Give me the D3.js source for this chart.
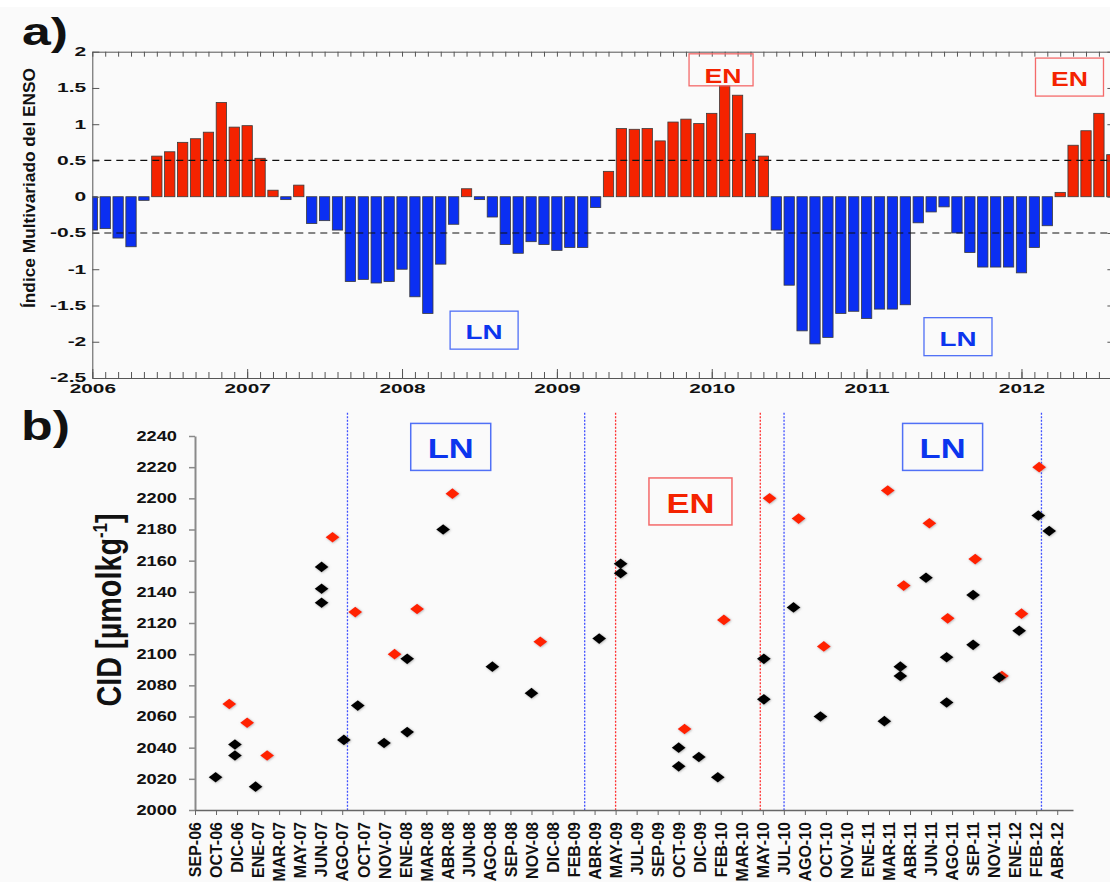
<!DOCTYPE html>
<html>
<head>
<meta charset="utf-8">
<script src="https://cdn.jsdelivr.net/npm/d3@7"></script>
<style>
  body { margin: 0; background: #fafafa; }
  svg { display: block; font-family: "Liberation Sans", Arial, sans-serif; }
</style>
</head>
<body>
<div id="chart"></div>
<script>
// ---- panel a: Multivariate ENSO index, monthly from Jan 2006 ----
var meiStart = 2006;
var meiValues = [
  -0.46, -0.44, -0.57, -0.69, -0.05, 0.56, 0.62, 0.75, 0.80, 0.89, 1.30, 0.96,
   0.98,  0.53,  0.09, -0.04,  0.16, -0.37, -0.33, -0.46, -1.17, -1.14, -1.19, -1.17,
  -1.00, -1.38, -1.61, -0.93, -0.38, 0.11, -0.04, -0.28, -0.66, -0.78, -0.62, -0.66,
  -0.74, -0.70, -0.70, -0.15,  0.35, 0.94, 0.93, 0.94, 0.77, 1.03, 1.07, 1.01,
   1.15,  1.53,  1.40,  0.87,  0.56, -0.46, -1.22, -1.85, -2.03, -1.94, -1.61, -1.58,
  -1.68, -1.55, -1.55, -1.49, -0.36, -0.21, -0.14, -0.50, -0.77, -0.97, -0.97, -0.97,
  -1.05, -0.70, -0.40,  0.06,  0.71, 0.91, 1.15, 0.58
];
var meiYears = [2006, 2007, 2008, 2009, 2010, 2011, 2012];
var meiTicks = [2, 1.5, 1, 0.5, 0, -0.5, -1, -1.5, -2, -2.5];
var meiThresholds = [0.5, -0.5];
// annotation boxes: [label, year, value]
var meiNotes = [["EN", 2010.06, 1.75], ["EN", 2012.31, 1.65], ["LN", 2008.53, -1.84], ["LN", 2011.59, -1.93]];

// ---- panel b: CID samples ----
var cidLabels = ["SEP-06","OCT-06","DIC-06","ENE-07","MAR-07","MAY-07","JUN-07","AGO-07","OCT-07","NOV-07",
  "ENE-08","MAR-08","ABR-08","JUN-08","AGO-08","SEP-08","NOV-08","DIC-08","FEB-09","ABR-09",
  "MAY-09","JUL-09","SEP-09","OCT-09","DIC-09","FEB-10","MAR-10","MAY-10","JUL-10","AGO-10",
  "OCT-10","NOV-10","ENE-11","MAR-11","ABR-11","JUN-11","AGO-11","SEP-11","NOV-11","ENE-12",
  "FEB-12","ABR-12"];
var cidTicks = [2000, 2020, 2040, 2060, 2080, 2100, 2120, 2140, 2160, 2180, 2200, 2220, 2240];
// [position on category axis, CID]
var redPoints = [[1.63,2068],[2.48,2056],[3.43,2035],[6.54,2175],[7.62,2127],[9.49,2100],[10.56,2129],
  [12.24,2203],[16.42,2108],[23.28,2052],[25.15,2122],[27.32,2200],[28.7,2187],[29.9,2105],
  [32.94,2205],[33.7,2144],[34.92,2184],[35.79,2123],[37.1,2161],[38.37,2086],[39.3,2126],[40.14,2220]];
var blackPoints = [[0.98,2021],[1.9,2042],[1.9,2035],[2.88,2015],[6.02,2156],[6.02,2142],[6.02,2133],
  [7.08,2045],[7.74,2067],[8.99,2043],[10.09,2097],[10.09,2050],[11.8,2180],[14.14,2092],[16.0,2075],
  [19.22,2110],[20.24,2158],[20.24,2152],[23.0,2040],[23.0,2028],[23.96,2034],[24.86,2021],
  [27.05,2097],[27.05,2071],[28.46,2130],[29.74,2060],[32.78,2057],[33.54,2092],[33.54,2086],
  [34.76,2149],[35.74,2098],[35.74,2069],[37.0,2138],[37.0,2106],[38.24,2085],[39.19,2115],
  [40.1,2189],[40.62,2179]];
var phasePos = [7.25, 18.53, 20.0, 26.88, 28.01, 40.25];
var phaseType = ["LN", "LN", "EN", "EN", "LN", "LN"];
// annotation boxes: [label, position, CID]
var cidNotes = [["LN", 12.16, 2233], ["EN", 23.56, 2198], ["LN", 35.55, 2233]];

var RED = "#f42300", BLUE = "#0b2ff2";
var noteColor = { EN: "#f42300", LN: "#0b35ee" };
var noteBorder = { EN: "#f46a6a", LN: "#5070f6" };
var lineColor = { EN: "#ff3030", LN: "#4050ff" };

var W = 1110, H = 882;
var svg = d3.select("#chart").append("svg").attr("width", W).attr("height", H);
svg.append("rect").attr("width", W).attr("height", H).attr("fill", "#fafafa");
svg.append("rect").attr("width", W).attr("height", 7).attr("fill", "#ffffff");

function stretch(sel, k) {
  sel.each(function () {
    var w = this.getComputedTextLength();
    d3.select(this).attr("textLength", w * k).attr("lengthAdjust", "spacingAndGlyphs");
  });
}

// ================= panel a =================
var xa = d3.scaleLinear().domain([2006, 2012.6]).range([92.3, 1114.4]);
var ya = d3.scaleLinear().domain([-2.5, 2]).range([378, 51.7]);
var months = d3.range(0, 80).map(function (i) { return meiStart + i / 12; });

svg.append("defs").append("clipPath").attr("id", "clipA")
  .append("rect").attr("x", xa(2006)).attr("y", ya(2))
  .attr("width", xa(2012.6) - xa(2006)).attr("height", ya(-2.5) - ya(2));

var ga = svg.append("g");
var barW = (xa(meiStart + 1 / 12) - xa(meiStart)) * 0.8;

ga.append("g").attr("clip-path", "url(#clipA)")
  .selectAll("rect").data(meiValues).join("rect")
  .attr("x", function (d, i) { return xa(meiStart + i / 12) - barW / 2; })
  .attr("y", function (d) { return ya(Math.max(d, 0)); })
  .attr("width", barW)
  .attr("height", function (d) { return Math.abs(ya(d) - ya(0)); })
  .attr("fill", function (d) { return d >= 0 ? RED : BLUE; })
  .attr("stroke", "#3a3a3a").attr("stroke-width", 0.8);

ga.selectAll(".thr").data(meiThresholds).join("line")
  .attr("class", "thr")
  .attr("x1", xa(2006)).attr("x2", xa(2012.6))
  .attr("y1", function (d) { return ya(d); }).attr("y2", function (d) { return ya(d); })
  .attr("stroke", "#111").attr("stroke-width", 1.2).attr("stroke-dasharray", "7,5");

function styleAxis(g, color) {
  g.selectAll("path, line").attr("stroke", color);
  g.selectAll("text").attr("fill", "#111").attr("font-weight", "bold");
}

var axL = ga.append("g").attr("transform", "translate(" + xa(2006) + ",0)")
  .call(d3.axisLeft(ya).tickValues(meiTicks).tickSize(-7).tickSizeOuter(0).tickPadding(6)
    .tickFormat(function (d) { return String(d); }));
axL.selectAll("text").attr("font-size", 12);
styleAxis(axL, "#555");
stretch(axL.selectAll("text"), 1.75);

var axR = ga.append("g").attr("transform", "translate(" + xa(2012.6) + ",0)")
  .call(d3.axisRight(ya).tickValues(meiTicks).tickSize(-7).tickSizeOuter(0).tickFormat(""));
styleAxis(axR, "#555");

var axT = ga.append("g").attr("transform", "translate(0," + ya(2) + ")")
  .call(d3.axisTop(xa).tickValues(months).tickSize(-5).tickSizeOuter(0).tickFormat(""));
styleAxis(axT, "#555");

var axB = ga.append("g").attr("transform", "translate(0," + ya(-2.5) + ")")
  .call(d3.axisBottom(xa).tickValues(months).tickSize(-6).tickSizeOuter(0).tickFormat(""));
styleAxis(axB, "#555");

var axY = ga.append("g").attr("transform", "translate(0," + ya(-2.5) + ")")
  .call(d3.axisBottom(xa).tickValues(meiYears).tickSize(-9).tickSizeOuter(0).tickPadding(6)
    .tickFormat(function (d) { return String(d); }));
axY.select(".domain").remove();
axY.selectAll("text").attr("font-size", 13);
styleAxis(axY, "#555");
stretch(axY.selectAll("text"), 1.6);

var na = ga.selectAll(".notea").data(meiNotes).join("g").attr("class", "notea")
  .attr("transform", function (d) { return "translate(" + xa(d[1]) + "," + ya(d[2]) + ")"; });
na.append("rect")
  .attr("x", function (d, i) { return i === 0 ? -32 : -34; })
  .attr("y", function (d, i) { return i === 0 ? -16 : -19; })
  .attr("width", function (d, i) { return i === 0 ? 64 : 68; })
  .attr("height", function (d, i) { return i === 0 ? 32 : 38; })
  .attr("fill", "none").attr("stroke", function (d) { return noteBorder[d[0]]; }).attr("stroke-width", 1.3);
na.append("text")
  .attr("x", function (d, i) { return i === 0 ? 2 : 0; })
  .attr("y", function (d, i) { return i === 0 ? 6 : 2; })
  .attr("dy", "0.35em").attr("text-anchor", "middle")
  .attr("font-size", 20).attr("font-weight", "bold")
  .attr("fill", function (d) { return noteColor[d[0]]; })
  .text(function (d) { return d[0]; })
  .attr("textLength", 37).attr("lengthAdjust", "spacingAndGlyphs");

svg.append("text")
  .attr("transform", "translate(35,188) rotate(-90)")
  .attr("text-anchor", "middle").attr("font-size", 17).attr("font-weight", "bold").attr("fill", "#111")
  .text("Índice Multivariado del ENSO")
  .attr("textLength", 240).attr("lengthAdjust", "spacingAndGlyphs");

svg.append("text").attr("x", 22).attr("y", 45)
  .attr("font-size", 38).attr("font-weight", "bold").attr("fill", "#111")
  .text("a)").attr("textLength", 46).attr("lengthAdjust", "spacingAndGlyphs");

// ================= panel b =================
var xb = d3.scaleLinear().domain([0, 41.75]).range([195, 1073]);
var yb = d3.scaleLinear().domain([2000, 2240]).range([810, 436]);
var gb = svg.append("g");

svg.append("text").attr("x", 21).attr("y", 440)
  .attr("font-size", 40).attr("font-weight", "bold").attr("fill", "#111")
  .text("b)").attr("textLength", 49).attr("lengthAdjust", "spacingAndGlyphs");

gb.selectAll(".phase").data(phasePos).join("line").attr("class", "phase")
  .attr("x1", function (d) { return xb(d); }).attr("x2", function (d) { return xb(d); })
  .attr("y1", yb(2255)).attr("y2", yb(2000))
  .attr("stroke", function (d, i) { return lineColor[phaseType[i]]; })
  .attr("stroke-width", 1.3).attr("stroke-dasharray", "2,1.5");

var nb = gb.selectAll(".noteb").data(cidNotes).join("g").attr("class", "noteb")
  .attr("transform", function (d) { return "translate(" + xb(d[1]) + "," + yb(d[2]) + ")"; });
nb.append("rect")
  .attr("x", function (d) { return d[0] === "EN" ? -41.5 : -40; }).attr("y", -23.5)
  .attr("width", function (d) { return d[0] === "EN" ? 83 : 80; }).attr("height", 47)
  .attr("fill", "none").attr("stroke", function (d) { return noteBorder[d[0]]; }).attr("stroke-width", 1.5);
nb.append("text").attr("y", 1.5).attr("dy", "0.35em").attr("text-anchor", "middle")
  .attr("font-size", 28).attr("font-weight", "bold")
  .attr("fill", function (d) { return noteColor[d[0]]; })
  .text(function (d) { return d[0]; })
  .attr("textLength", function (d) { return d[0] === "EN" ? 48 : 46; })
  .attr("lengthAdjust", "spacingAndGlyphs");

var axbY = gb.append("g").attr("transform", "translate(" + xb(0) + ",0)")
  .call(d3.axisLeft(yb).tickValues(cidTicks).tickSize(6).tickSizeOuter(0).tickPadding(12)
    .tickFormat(function (d) { return String(d); }));
axbY.select(".domain").attr("stroke", "#8a8a8a").attr("stroke-width", 2);
axbY.selectAll("line").attr("stroke", "#8a8a8a").attr("stroke-width", 1.5);
axbY.selectAll("text").attr("font-size", 14).attr("font-weight", "bold").attr("fill", "#111");
stretch(axbY.selectAll("text"), 1.3);

var axbX = gb.append("g").attr("transform", "translate(0," + yb(2000) + ")")
  .call(d3.axisBottom(xb).tickValues(d3.range(cidLabels.length)).tickSize(5).tickSizeOuter(0)
    .tickFormat(function (i) { return cidLabels[i]; }));
axbX.select(".domain").attr("stroke", "#666").attr("stroke-width", 1.5);
axbX.selectAll("line").attr("stroke", "#666");
axbX.selectAll("text")
  .attr("transform", "rotate(-90)").attr("x", -12).attr("y", 0).attr("dy", "0.36em")
  .attr("text-anchor", "end").attr("font-size", 16).attr("font-weight", "bold").attr("fill", "#111");

var defs = svg.select("defs");
var f = defs.append("filter").attr("id", "shadow").attr("x", "-50%").attr("y", "-50%")
  .attr("width", "200%").attr("height", "200%");
f.append("feDropShadow").attr("dx", 0.5).attr("dy", 0.5).attr("stdDeviation", 1)
  .attr("flood-color", "#777").attr("flood-opacity", 0.6);

var diamond = d3.symbol().type(d3.symbolDiamond2).size(72);
gb.selectAll(".red").data(redPoints).join("path").attr("class", "red")
  .attr("d", diamond)
  .attr("transform", function (d) { return "translate(" + xb(d[0]) + "," + yb(d[1]) + ") scale(1.3,1)"; })
  .attr("fill", "#ff2200").attr("filter", "url(#shadow)");
gb.selectAll(".blk").data(blackPoints).join("path").attr("class", "blk")
  .attr("d", diamond)
  .attr("transform", function (d) { return "translate(" + xb(d[0]) + "," + yb(d[1]) + ") scale(1.3,1)"; })
  .attr("fill", "#000").attr("filter", "url(#shadow)");

var title = svg.append("text")
  .attr("transform", "translate(121,610) rotate(-90) scale(0.8,1)")
  .attr("text-anchor", "middle").attr("font-size", 36).attr("font-weight", "bold").attr("fill", "#111");
title.append("tspan").text("CID [µmolkg");
title.append("tspan").attr("dy", -14).attr("font-size", 21).text("-1");
title.append("tspan").attr("dy", 14).text("]");
</script>
</body>
</html>
